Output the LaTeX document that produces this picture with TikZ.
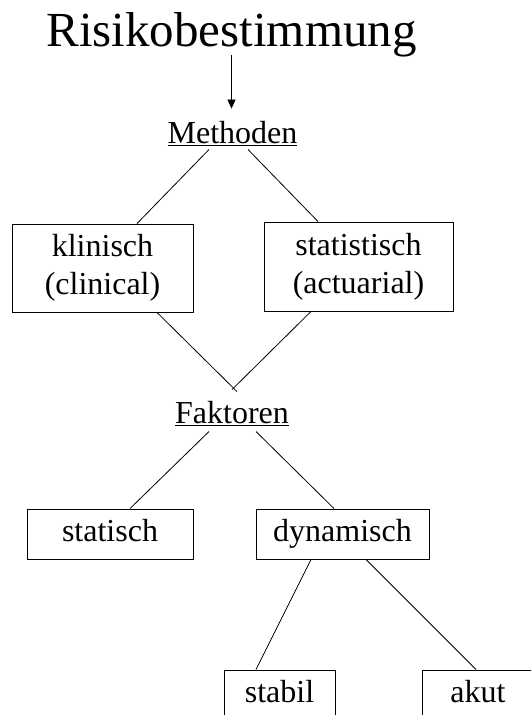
\documentclass[tikz,border=0pt]{standalone}
\usepackage{fontspec}
\setmainfont{Liberation Serif}
\usetikzlibrary{arrows.meta}
\begin{document}
\begin{tikzpicture}[
		x=1pt, y=-1pt,
		heading/.style={inner sep=0pt, anchor=base, font=\fontsize{32}{38}\selectfont},
		box/.style={rectangle, draw, line width=0.9pt, inner sep=0pt, align=center, font=\fontsize{32}{38}\selectfont},
		smallbox/.style={box, minimum height=50pt, text height=22pt, text depth=8pt},
		link/.style={line width=0.8pt},
		arrow/.style={-{Triangle[length=9pt,width=8pt]}, line width=0.8pt}
	]
	\clip (0,0) rectangle (531,715);
	\node[inner sep=0pt, anchor=base, font=\fontsize{49}{58}\selectfont] (title) at (231.5,46) {Risikobestimmung};
	\node[heading] (methods) at (232.5,143) {\underline{Methoden}};
	\node[box, minimum width=181pt, minimum height=88pt] (clinical) at (102.5,268) {klinisch\\(clinical)};
	\node[box, minimum width=189pt, minimum height=89pt] (actuarial) at (358.5,266.5) {statistisch\\(actuarial)};
	\node[heading] (factors) at (232,423) {\underline{Faktoren}};
	\node[smallbox, minimum width=166pt] (static) at (110,534) {statisch};
	\node[smallbox, minimum width=173pt] (dynamic) at (342.5,534) {dynamisch};
	\node[smallbox, minimum width=111pt] (stable) at (279.5,695) {stabil};
	\node[smallbox, minimum width=112pt] (acute) at (478,695) {akut};

	\draw[arrow, shorten <=-2pt, shorten >=12pt] (title.south) -- (title.south |- methods.north);
	\draw[link] ([xshift=-23.5pt,yshift=-4pt]methods.south) -- ([xshift=34.5pt]clinical.north);
	\draw[link] ([xshift=15.5pt,yshift=-4pt]methods.south) -- ([xshift=-40.5pt]actuarial.north);
	\draw[link] ([xshift=54.5pt]clinical.south) -- ([xshift=5pt,yshift=9pt]factors.north);
	\draw[link] ([xshift=-47.5pt]actuarial.south) -- ([yshift=11pt]factors.north);
	\draw[link] ([xshift=-23pt,yshift=-6pt]factors.south) -- ([xshift=20pt]static.north);
	\draw[link] ([xshift=24pt,yshift=-6pt]factors.south) -- ([xshift=-8.5pt]dynamic.north);
	\draw[link] ([xshift=-31.5pt]dynamic.south) -- ([xshift=-23.5pt]stable.north);
	\draw[link] ([xshift=23.5pt]dynamic.south) -- ([xshift=-2pt]acute.north);
\end{tikzpicture}
\end{document}
